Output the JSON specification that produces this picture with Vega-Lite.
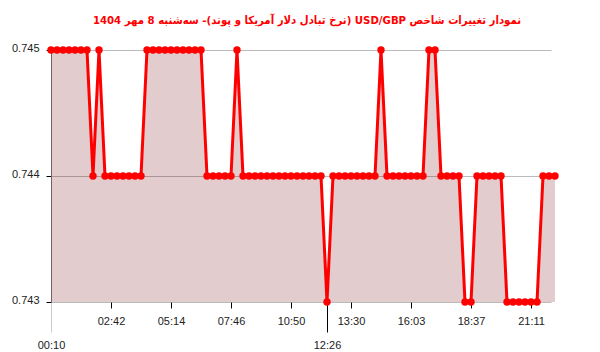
{
  "$schema": "https://vega.github.io/schema/vega-lite/v6.json",
  "autosize": {"type": "none"},
  "width": 500,
  "height": 252,
  "padding": {"left": 51, "top": 50, "right": 49, "bottom": 50},
  "background": "white",
  "title": {
    "text": "‫نمودار تغییرات شاخص USD/GBP (نرخ تبادل دلار آمریکا و پوند)- سه‌شنبه  8 مهر 1404‬",
    "color": "#ff0000",
    "font": "DejaVu Sans Condensed, DejaVu Sans",
    "fontSize": 11.3,
    "fontWeight": "bold",
    "anchor": "middle",
    "frame": "group",
    "dx": 6,
    "baseline": "alphabetic",
    "offset": 7
  },
  "config": {
    "view": {"stroke": null},
    "axis": {"labelFont": "Liberation Sans", "labelFontSize": 11, "labelColor": "#222"}
  },
  "data": {
    "values": [
      {"i": 0, "v": 0.745}, {"i": 1, "v": 0.745}, {"i": 2, "v": 0.745}, {"i": 3, "v": 0.745},
      {"i": 4, "v": 0.745}, {"i": 5, "v": 0.745}, {"i": 6, "v": 0.745}, {"i": 7, "v": 0.744},
      {"i": 8, "v": 0.745}, {"i": 9, "v": 0.744}, {"i": 10, "v": 0.744}, {"i": 11, "v": 0.744},
      {"i": 12, "v": 0.744}, {"i": 13, "v": 0.744}, {"i": 14, "v": 0.744}, {"i": 15, "v": 0.744},
      {"i": 16, "v": 0.745}, {"i": 17, "v": 0.745}, {"i": 18, "v": 0.745}, {"i": 19, "v": 0.745},
      {"i": 20, "v": 0.745}, {"i": 21, "v": 0.745}, {"i": 22, "v": 0.745}, {"i": 23, "v": 0.745},
      {"i": 24, "v": 0.745}, {"i": 25, "v": 0.745}, {"i": 26, "v": 0.744}, {"i": 27, "v": 0.744},
      {"i": 28, "v": 0.744}, {"i": 29, "v": 0.744}, {"i": 30, "v": 0.744}, {"i": 31, "v": 0.745},
      {"i": 32, "v": 0.744}, {"i": 33, "v": 0.744}, {"i": 34, "v": 0.744}, {"i": 35, "v": 0.744},
      {"i": 36, "v": 0.744}, {"i": 37, "v": 0.744}, {"i": 38, "v": 0.744}, {"i": 39, "v": 0.744},
      {"i": 40, "v": 0.744}, {"i": 41, "v": 0.744}, {"i": 42, "v": 0.744}, {"i": 43, "v": 0.744},
      {"i": 44, "v": 0.744}, {"i": 45, "v": 0.744}, {"i": 46, "v": 0.743}, {"i": 47, "v": 0.744},
      {"i": 48, "v": 0.744}, {"i": 49, "v": 0.744}, {"i": 50, "v": 0.744}, {"i": 51, "v": 0.744},
      {"i": 52, "v": 0.744}, {"i": 53, "v": 0.744}, {"i": 54, "v": 0.744}, {"i": 55, "v": 0.745},
      {"i": 56, "v": 0.744}, {"i": 57, "v": 0.744}, {"i": 58, "v": 0.744}, {"i": 59, "v": 0.744},
      {"i": 60, "v": 0.744}, {"i": 61, "v": 0.744}, {"i": 62, "v": 0.744}, {"i": 63, "v": 0.745},
      {"i": 64, "v": 0.745}, {"i": 65, "v": 0.744}, {"i": 66, "v": 0.744}, {"i": 67, "v": 0.744},
      {"i": 68, "v": 0.744}, {"i": 69, "v": 0.743}, {"i": 70, "v": 0.743}, {"i": 71, "v": 0.744},
      {"i": 72, "v": 0.744}, {"i": 73, "v": 0.744}, {"i": 74, "v": 0.744}, {"i": 75, "v": 0.744},
      {"i": 76, "v": 0.743}, {"i": 77, "v": 0.743}, {"i": 78, "v": 0.743}, {"i": 79, "v": 0.743},
      {"i": 80, "v": 0.743}, {"i": 81, "v": 0.743}, {"i": 82, "v": 0.744}, {"i": 83, "v": 0.744},
      {"i": 84, "v": 0.744}
    ]
  },
  "encoding": {
    "x": {
      "field": "i",
      "type": "quantitative",
      "scale": {"domain": [0, 83.3333], "nice": false, "zero": false},
      "axis": {
        "title": null,
        "values": [0, 10, 20, 30, 40, 46, 50, 60, 70, 80],
        "labelExpr": "datum.value==0?'00:10':datum.value==10?'02:42':datum.value==20?'05:14':datum.value==30?'07:46':datum.value==40?'10:50':datum.value==46?'12:26':datum.value==50?'13:30':datum.value==60?'16:03':datum.value==70?'18:37':'21:11'",
        "grid": false,
        "domain": false,
        "tickSize": {"condition": {"test": "datum.value==0||datum.value==46", "value": 30}, "value": 6},
        "tickColor": {"condition": {"test": "datum.value==0", "value": "#cccccc"}, "value": "#000000"},
        "labelPadding": 7,
        "labelFlush": false,
        "labelOverlap": false
      }
    },
    "y": {
      "field": "v",
      "type": "quantitative",
      "scale": {"domain": [0.743, 0.745], "nice": false, "zero": false},
      "axis": {
        "title": null,
        "values": [0.743, 0.744, 0.745],
        "format": ".3f",
        "grid": true,
        "gridColor": "#bbbbbb",
        "gridWidth": 1,
        "domainColor": "#777777",
        "tickColor": "#000000",
        "tickSize": 5,
        "labelPadding": 7,
        "labelOffset": -2,
        "labelFlush": false
      }
    }
  },
  "layer": [
    {
      "mark": {"type": "area", "color": "#700005", "opacity": 0.2},
      "encoding": {"y2": {"datum": 0.743}}
    },
    {
      "mark": {"type": "line", "color": "#ff0000", "strokeWidth": 3}
    },
    {
      "mark": {"type": "point", "filled": true, "color": "#ff0000", "opacity": 1, "size": 55}
    }
  ]
}
